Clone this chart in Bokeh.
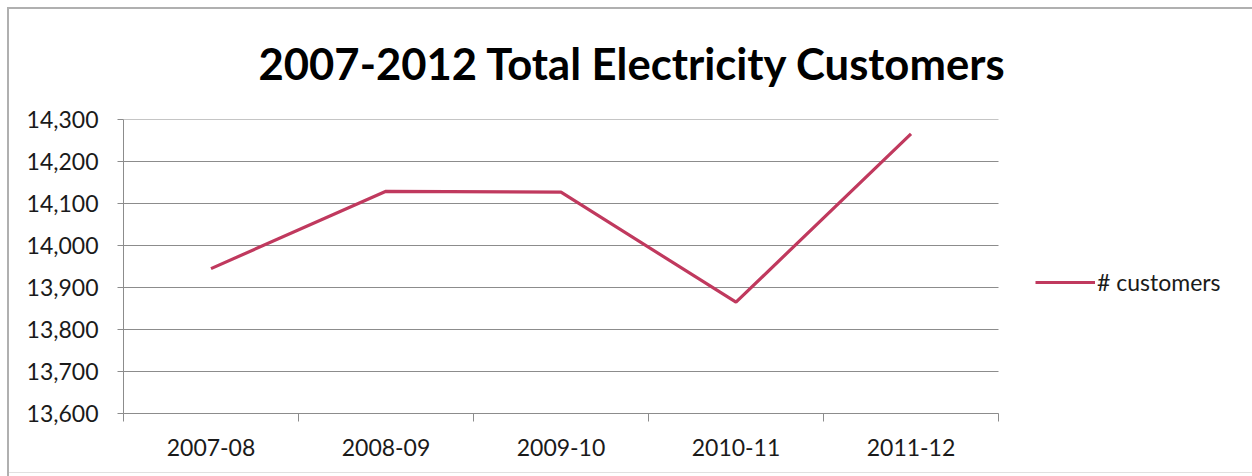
from bokeh.plotting import figure
from bokeh.models import (FixedTicker, NumeralTickFormatter, Range1d, Legend, LegendItem)
from bokeh.embed import file_html
from bokeh.resources import INLINE

categories = ["2007-08", "2008-09", "2009-10", "2010-11", "2011-12"]
customers = [13945, 14129, 14127, 13865, 14266]
y_ticks = [13600, 13700, 13800, 13900, 14000, 14100, 14200, 14300]
title_text = "2007-2012 Total Electricity Customers"
series_name = "# customers"

FONT = "Lato"
GRAY = "#8c8c8c"
LINE = "#C0395E"

# layout (pixels)
W, H = 1252, 476
LEFT, TOP, BOTTOM = 123, 119, 63
PLOT_W = 875                     # width of the category area
EXTRA_W = W - LEFT - PLOT_W      # legend area to the right of the category area

n = len(categories)
x_pos = [i + 0.5 for i in range(n)]
x_end = n * (PLOT_W + EXTRA_W) / PLOT_W

p = figure(width=W, height=H, output_backend="svg", toolbar_location=None,
           x_range=Range1d(0, x_end), y_range=Range1d(y_ticks[0], y_ticks[-1]),
           min_border_left=LEFT, min_border_right=0, min_border_top=TOP,
           min_border_bottom=BOTTOM)
p.outline_line_color = None
p.background_fill_color = "white"
p.border_fill_alpha = 0
p.styles = {"box-shadow": "inset 7px 7px 0 0 white, inset 9px 9px 0 0 #b0b0b0, "
                          "inset 0 -3px 0 0 white, inset 0 -4px 0 0 #e0e0e0",
            "background-color": "white"}

# horizontal gridlines limited to the category area
p.xgrid.grid_line_color = None
p.ygrid.grid_line_color = None
p.segment(x0=[0] * len(y_ticks), x1=[n] * len(y_ticks), y0=y_ticks, y1=y_ticks,
          line_color=GRAY, line_width=1)

r = p.line(x_pos, customers, line_color=LINE, line_width=3.2)

# title
p.title.text = title_text
p.title.align = "left"
p.title.offset = 135
p.title.standoff = 62
p.title.text_font = FONT
p.title.text_font_style = "bold"
p.title.text_font_size = "43.6px"
p.title.text_color = "black"

# x axis
xa = p.xaxis[0]
xa.bounds = (0, n)
xa.ticker = FixedTicker(ticks=x_pos, minor_ticks=list(range(n + 1)))
xa.major_label_overrides = {x: c for x, c in zip(x_pos, categories)}
xa.major_tick_in = 0
xa.major_tick_out = 0
xa.minor_tick_in = 0
xa.minor_tick_out = 8
xa.minor_tick_line_color = GRAY
xa.axis_line_color = GRAY
xa.major_label_standoff = 17
xa.major_label_text_font = FONT
xa.major_label_text_font_size = "23px"
xa.major_label_text_color = "#1a1a1a"

# y axis
ya = p.yaxis[0]
ya.ticker = FixedTicker(ticks=y_ticks)
ya.formatter = NumeralTickFormatter(format="0,0")
ya.major_tick_in = 0
ya.major_tick_out = 6
ya.minor_tick_line_color = None
ya.major_tick_line_color = GRAY
ya.axis_line_color = GRAY
ya.major_label_standoff = 19
ya.major_label_text_font = FONT
ya.major_label_text_font_size = "23px"
ya.major_label_text_color = "#1a1a1a"

legend = Legend(items=[LegendItem(label=series_name, renderers=[r])],
                location=(912, 117), glyph_width=60, glyph_height=24,
                label_text_font=FONT, label_text_font_size="23px",
                label_text_color="#1a1a1a", label_standoff=2,
                border_line_color=None, background_fill_alpha=0, padding=0, margin=0)
p.add_layout(legend)

open("out.html", "w").write(file_html(p, INLINE))
